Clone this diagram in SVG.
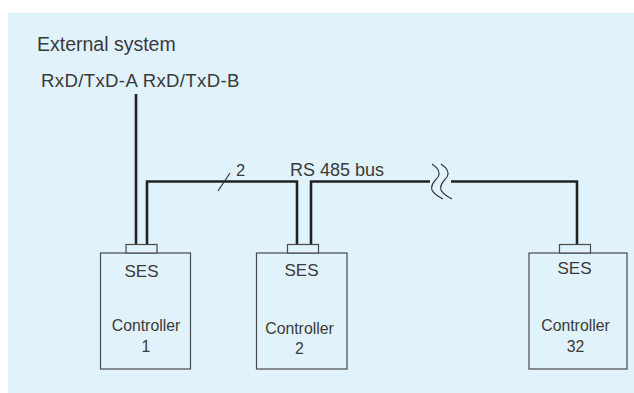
<svg xmlns="http://www.w3.org/2000/svg" width="634" height="393" viewBox="0 0 634 393">
<style>
.t{font-family:"Liberation Sans",Arial,sans-serif;fill:#3a3a3a}
.box{fill:#e0f2fc;stroke:#4a4a4a;stroke-width:1.2}
.wire{fill:none;stroke:#222;stroke-width:2.6}
.thin{fill:none;stroke:#333;stroke-width:1.2}
</style>
<rect x="0" y="0" width="634" height="393" fill="#ffffff"/>
<rect x="8" y="13" width="626" height="380" fill="#e0f2fc"/>
<text class="t" x="37" y="51" font-size="19.5">External system</text>
<text class="t" x="41" y="87" font-size="18.6" letter-spacing="0.35">RxD/TxD-A RxD/TxD-B</text>
<g id="connectors">
<path class="wire" d="M136,94 V245"/>
<path class="wire" d="M147,245 V181.5 H297 V245"/>
<path class="wire" d="M311,245 V181.5 H430"/>
<path class="wire" d="M451,181.5 H577 V245"/>
<path class="thin" d="M432,164 C438,168 441,172 438,177 C435,181 430,185 432,190 C434,194 439,197 443,199"/>
<path class="thin" d="M441,164 C447,168 450,172 447,177 C444,181 439,185 441,190 C443,194 448,197 452,199"/>
<path class="thin" d="M218,191 L230,173"/>
<text class="t" x="236" y="176" font-size="16.5">2</text>
<text class="t" x="290" y="176" font-size="18">RS 485 bus</text>
</g>
<g id="controller1">
<rect class="box" x="100.5" y="253" width="90" height="116"/>
<rect class="box" x="126" y="244.5" width="31" height="8.5"/>
<text class="t" x="141.5" y="276.5" font-size="17" text-anchor="middle">SES</text>
<text class="t" x="146" y="331" font-size="15.8" text-anchor="middle">Controller</text>
<text class="t" x="146" y="352" font-size="15.8" text-anchor="middle">1</text>
</g>
<g id="controller2">
<rect class="box" x="256.5" y="253" width="90.5" height="116"/>
<rect class="box" x="287.5" y="244.5" width="31" height="8.5"/>
<text class="t" x="301.5" y="275.5" font-size="17" text-anchor="middle">SES</text>
<text class="t" x="299.5" y="333.5" font-size="15.8" text-anchor="middle">Controller</text>
<text class="t" x="299.5" y="353.5" font-size="15.8" text-anchor="middle">2</text>
</g>
<g id="controller32">
<rect class="box" x="529" y="253" width="98" height="116"/>
<rect class="box" x="559.5" y="244.5" width="31" height="8.5"/>
<text class="t" x="574.5" y="274" font-size="17" text-anchor="middle">SES</text>
<text class="t" x="575.5" y="331" font-size="15.8" text-anchor="middle">Controller</text>
<text class="t" x="575.5" y="351.5" font-size="15.8" text-anchor="middle">32</text>
</g>
</svg>
